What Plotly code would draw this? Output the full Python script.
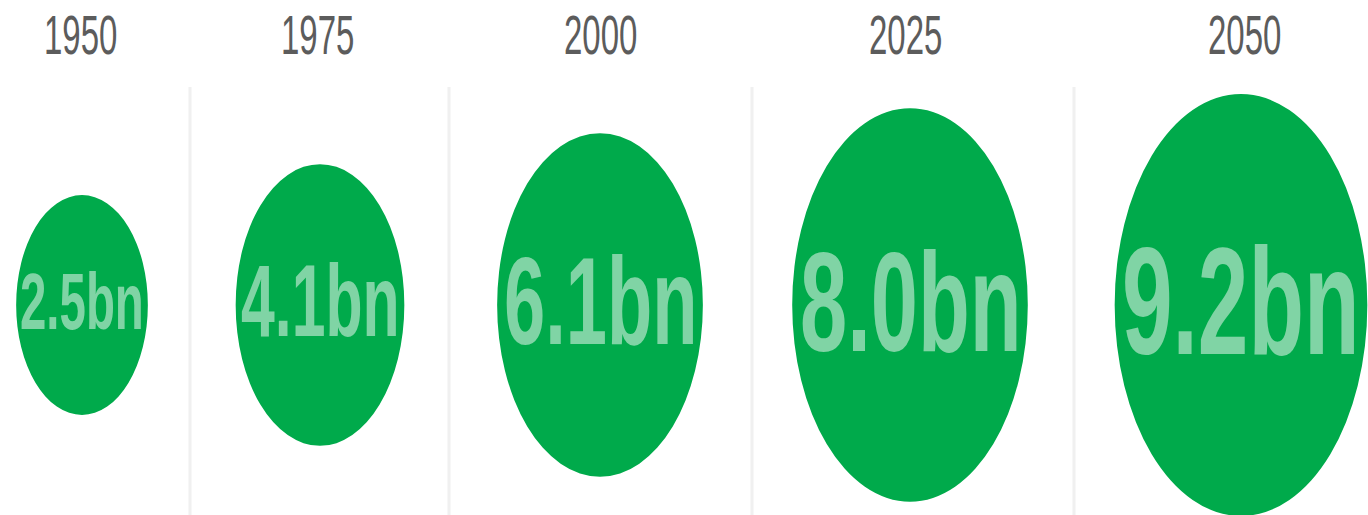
import math
import plotly.graph_objects as go

years = ["1950", "1975", "2000", "2025", "2050"]
population_bn = [2.5, 4.1, 6.1, 8.0, 9.2]
labels = ["2.5bn", "4.1bn", "6.1bn", "8.0bn", "9.2bn"]

# layout (pixels)
W, H = 1368, 515
col_centers = [82, 320, 600, 910, 1241]
label_x = [80, 317, 600, 905, 1244]
separator_x = [190, 449, 752, 1074]
center_y = 305
scale_w = 83.3          # ellipse width per sqrt(bn)
aspect = 1.67           # ellipse height / width (picture is stretched vertically)
green = "#00AA4B"
text_green = "#80D4A5"
year_color = "#5c5c5c"
sep_color = "#f0f0f0"
font_family = "Liberation Sans, Arial, Helvetica, sans-serif"

fig = go.Figure()
shapes = []
annotations = []
widths = [scale_w * math.sqrt(v) for v in population_bn]

for i, (yr, v, lab) in enumerate(zip(years, population_bn, labels)):
    w = widths[i]
    h = w * aspect
    cx = col_centers[i]
    shapes.append(dict(type="circle", xref="x", yref="y",
                       x0=cx - w / 2, x1=cx + w / 2,
                       y0=center_y - h / 2, y1=center_y + h / 2,
                       fillcolor=green, line=dict(width=0), layer="below"))
    annotations.append(dict(x=cx, y=301, xref="x", yref="y",
                            text=f"<b>{lab}</b>", showarrow=False,
                            xanchor="center", yanchor="middle",
                            font=dict(family=font_family,
                                      size=w * 0.36, color=text_green)))
    annotations.append(dict(x=label_x[i], y=34, xref="x", yref="y",
                            text=yr, showarrow=False,
                            xanchor="center", yanchor="middle",
                            font=dict(family=font_family,
                                      size=33, color=year_color)))

for sx in separator_x:
    shapes.append(dict(type="line", xref="x", yref="y",
                       x0=sx, x1=sx, y0=87, y1=H,
                       line=dict(color=sep_color, width=3), layer="below"))

fig.update_layout(
    width=W, height=H,
    margin=dict(l=0, r=0, t=0, b=0),
    paper_bgcolor="white", plot_bgcolor="white",
    xaxis=dict(range=[0, W], visible=False, fixedrange=True),
    yaxis=dict(range=[H, 0], visible=False, fixedrange=True),
    shapes=shapes, annotations=annotations,
    showlegend=False,
)

# the reference picture is stretched vertically; stretch the texts the same way
post = (
    "var gd = document.getElementById('{plot_id}');\n"
    "gd.querySelectorAll('text.annotation-text').forEach(function(t){\n"
    "  t.style.transformBox = 'fill-box';\n"
    "  t.style.transformOrigin = 'center';\n"
    "  t.style.transform = 'scale(1, " + str(aspect) + ")';\n"
    "});\n"
)

fig.write_html("out.html", config={"displayModeBar": False}, post_script=post)
